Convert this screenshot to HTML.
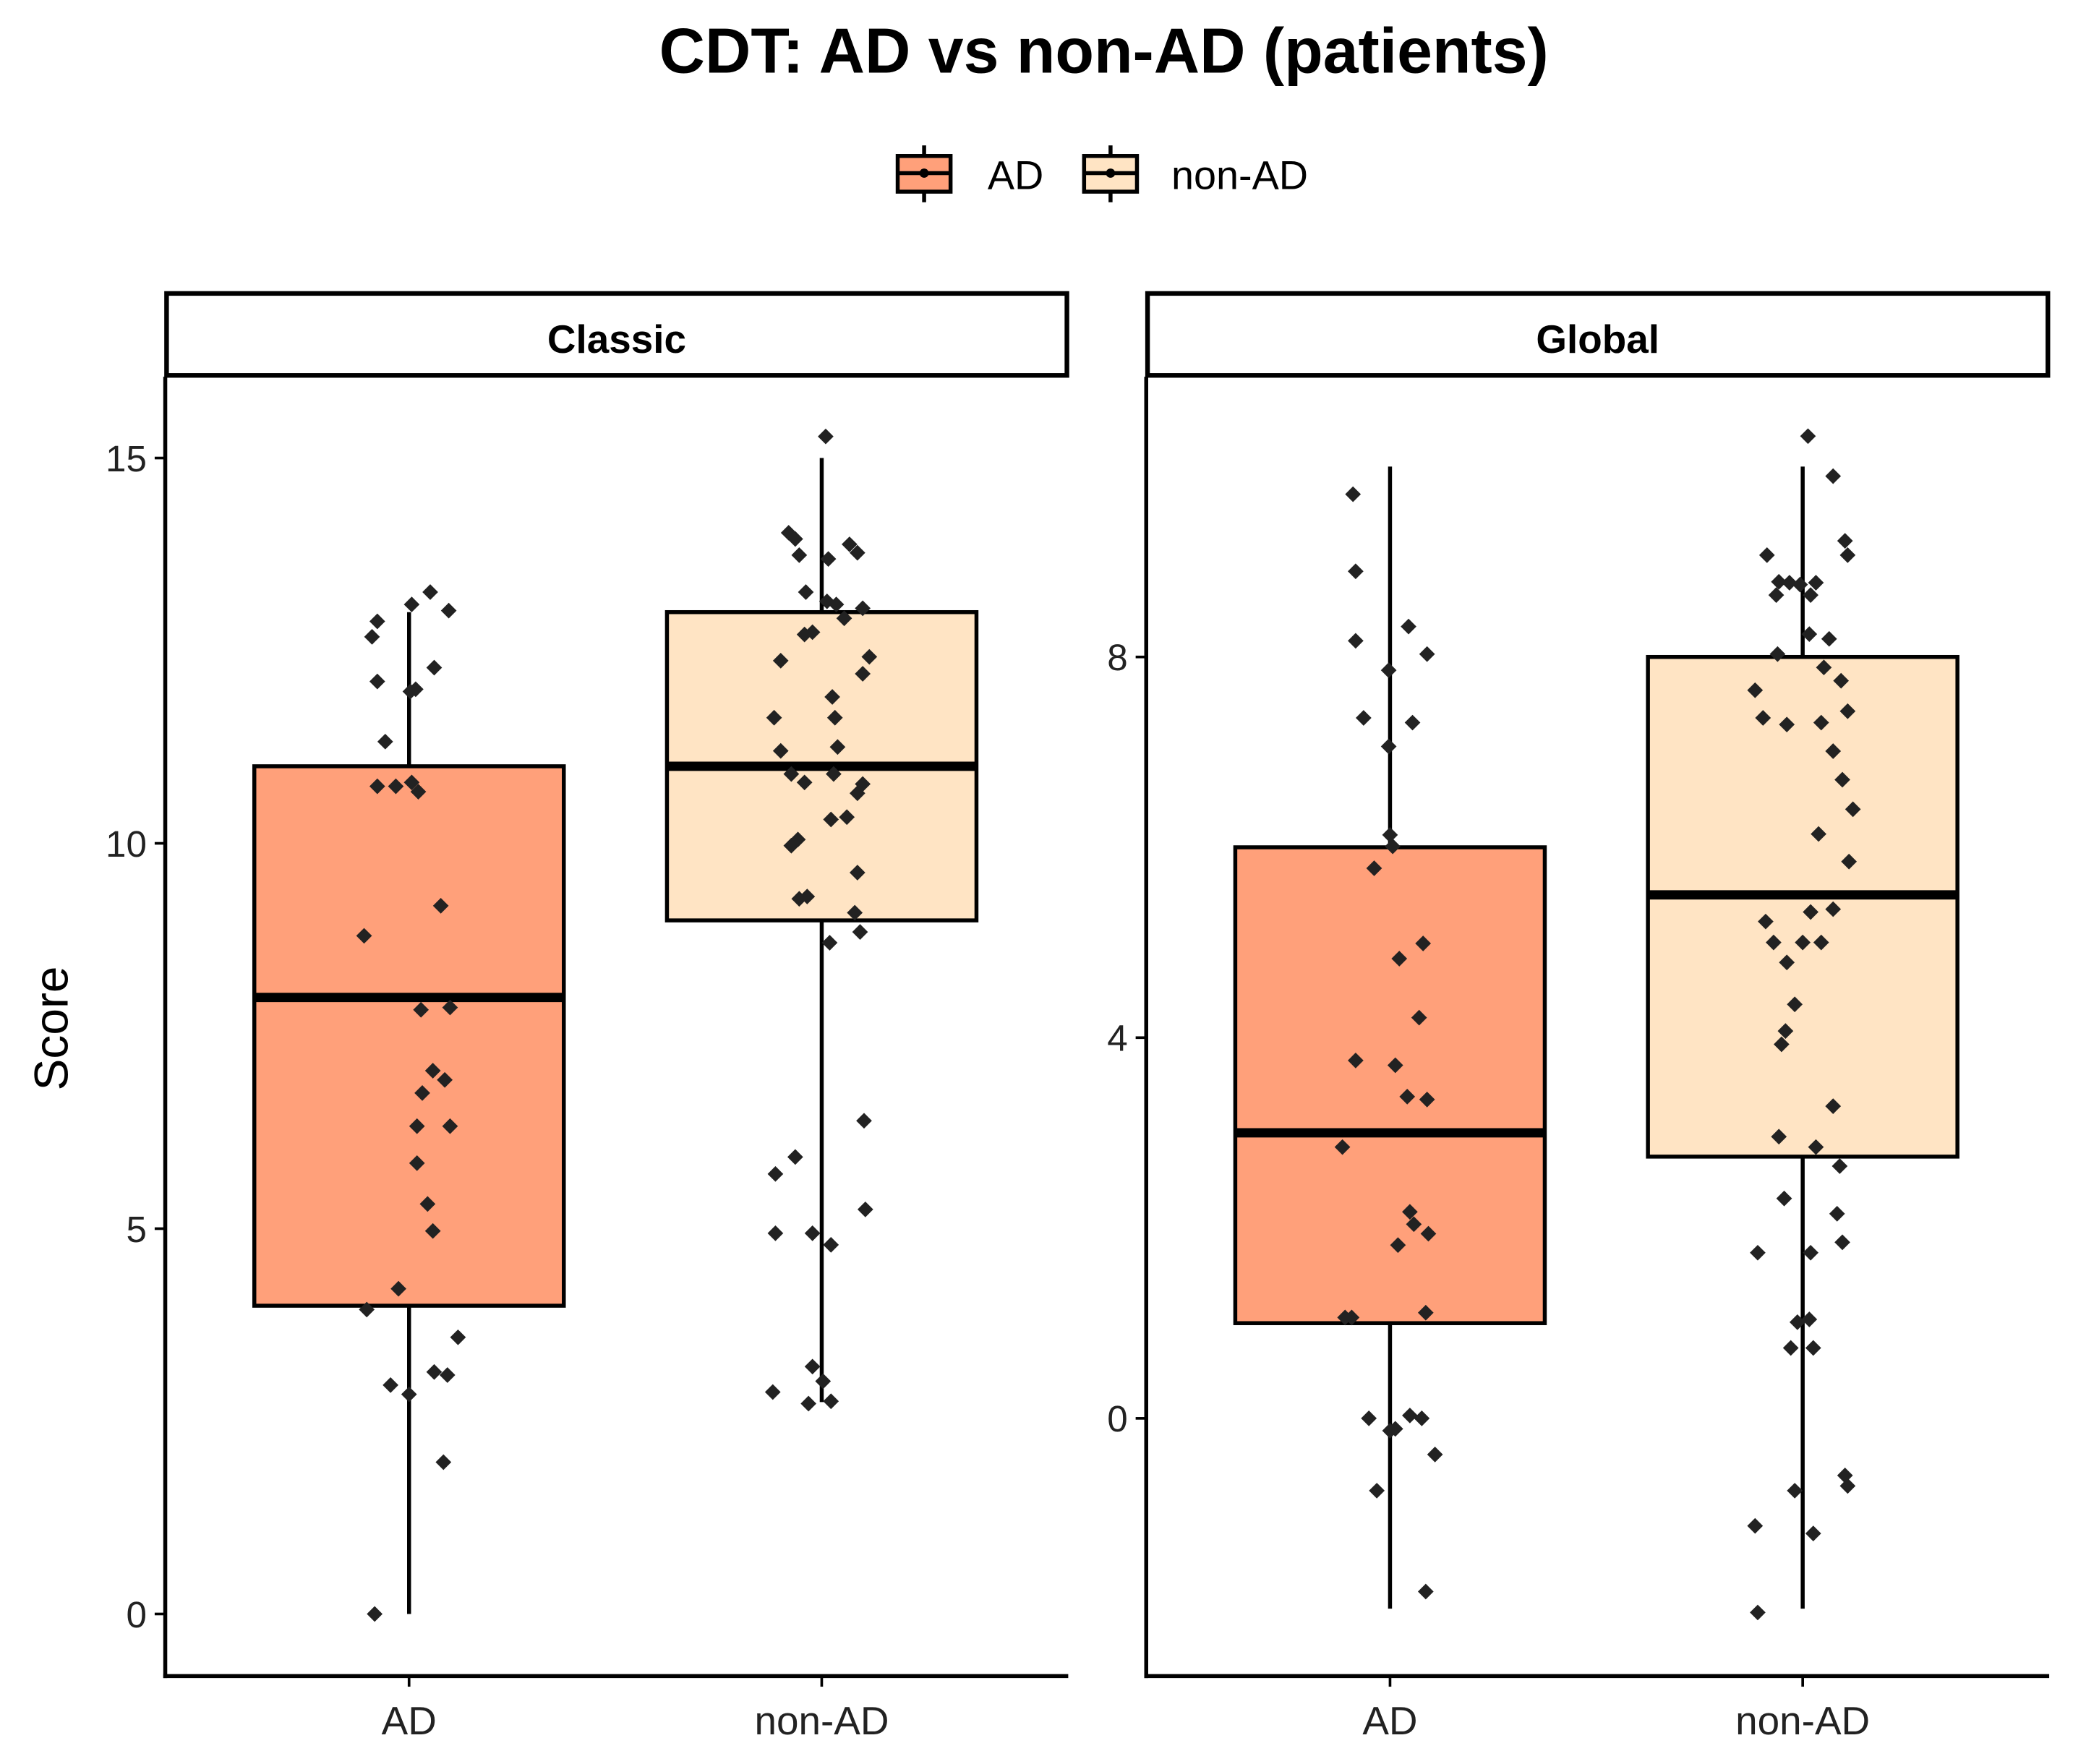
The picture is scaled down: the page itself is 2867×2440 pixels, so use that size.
<!DOCTYPE html>
<html><head><meta charset="utf-8"><style>
html,body{margin:0;padding:0;background:#fff;}
svg{display:block;font-family:"Liberation Sans",Arial,sans-serif;}
</style></head><body>
<svg id="chart" width="2867" height="2440" viewBox="0 0 1568 1334.5" preserveAspectRatio="none" xmlns="http://www.w3.org/2000/svg">
<rect width="1568" height="1334.5" fill="#fff"/>
<text x="835" y="55" text-anchor="middle" font-size="48" font-weight="bold">CDT: AD vs non-AD (patients)</text>
<g>
  <g>
    <line x1="699" y1="110" x2="699" y2="153" stroke="#000" stroke-width="3"/>
    <rect x="679" y="118" width="40" height="27" fill="#FFA07A" stroke="#000" stroke-width="3"/>
    <line x1="679" y1="131" x2="719" y2="131" stroke="#000" stroke-width="3"/>
    <circle cx="699" cy="131" r="3.5" fill="#000"/>
    <text x="747" y="143" font-size="30.5">AD</text>
  </g>
  <g>
    <line x1="840" y1="110" x2="840" y2="153" stroke="#000" stroke-width="3"/>
    <rect x="820" y="118" width="40" height="27" fill="#FFE4C4" stroke="#000" stroke-width="3"/>
    <line x1="820" y1="131" x2="860" y2="131" stroke="#000" stroke-width="3"/>
    <circle cx="840" cy="131" r="3.5" fill="#000"/>
    <text x="886" y="143" font-size="30.5">non-AD</text>
  </g>
</g>
<text transform="translate(51,778) rotate(-90)" text-anchor="middle" font-size="36">Score</text>
<g id="panels"></g>
</svg>
<script>
// ---- data ----
const categories = ["AD", "non-AD"];
const panelNames = ["Classic", "Global"];
const classicTicks = [0, 5, 10, 15];
const globalTicks = [0, 4, 8];
// box stats: [lowerWhisker, q1, median, q3, upperWhisker]
const classicADBox = [0, 4, 8, 11, 13];
const classicNonADBox = [2.75, 9, 11, 13, 15];
const globalADBox = [-2, 1, 3, 6, 10];
const globalNonADBox = [-2, 2.75, 5.5, 8, 10];
// points (values) and jitter (in 1/312 of category spacing)
const classicADVals = [13.26,13.1,12.88,13.02,12.68,12.0,12.28,12.1,11.32,11.97,10.74,10.74,10.79,10.67,9.19,8.8,7.84,7.87,7.05,6.93,6.76,6.33,6.33,5.85,5.32,4.97,4.22,3.95,3.59,2.97,2.85,3.14,3.1,1.97,0];
const classicADJit = [16,2,-24,30,-28,5,19,-24,-18,1,-24,-10,2,7,24,-34,9,31,18,27,10,6,31,6,14,18,-8,-32,37,-14,0,19,29,26,-26];
const classicNonADVals = [15.28,14.03,13.95,13.74,13.69,13.88,13.77,13.26,13.14,13.1,13.05,12.92,12.74,12.71,12.37,12.42,12.2,11.9,11.63,11.63,11.2,11.25,10.9,10.79,10.9,10.77,10.65,10.05,9.97,10.31,10.34,9.62,9.31,9.28,9.1,8.85,8.71,6.4,5.93,5.71,5.25,4.94,4.94,4.79,3.21,3.02,2.88,2.76,2.73];
const classicNonADJit = [3,-25,-20,-17,5,21,27,-12,4,11,31,17,-7,-13,-31,36,31,8,-36,10,-31,12,-23,-13,9,31,27,-18,-23,7,19,27,-11,-17,25,29,6,32,-20,-35,33,-35,-7,7,-7,1,-37,7,-10];
const globalADVals = [9.71,8.9,8.32,8.03,8.17,7.86,7.36,7.31,7.06,6.13,6.01,5.78,4.99,4.83,4.21,3.76,3.71,3.38,3.35,2.85,2.17,2.04,1.94,1.82,1.06,1.06,1.11,0,0.03,0,-0.13,-0.11,-0.38,-0.76,-1.82];
const globalADJit = [-28,-26,14,28,-26,-1,-20,17,-1,0,2,-12,25,7,22,-26,4,13,28,-36,15,18,29,6,-34,-29,27,-16,15,24,0,4,34,-10,27];
const globalNonADVals = [10.32,9.9,9.22,9.07,9.07,8.79,8.78,8.76,8.78,8.65,8.65,8.19,8.03,8.24,7.89,7.75,7.65,7.43,7.36,7.29,7.31,7.01,6.71,6.4,6.14,5.85,5.22,5.32,5.35,5.0,4.79,5.0,5.0,4.35,4.07,3.93,3.28,2.96,2.85,2.65,2.31,2.15,1.85,1.74,1.74,1.01,1.04,0.74,0.74,-0.6,-0.71,-0.76,-1.13,-1.21,-2.04];
const globalNonADJit = [4,23,32,34,-27,-18,-10,-2,10,6,-20,20,-19,5,16,29,-36,34,-30,-12,14,23,30,38,12,35,-28,6,23,-22,-12,0,14,-6,-13,-16,23,-18,10,28,-14,26,30,-34,6,-4,5,-9,8,32,34,-6,-36,8,-34];

// ---- layout ----
const NS = "http://www.w3.org/2000/svg";
const fills = ["#FFA07A", "#FFE4C4"];
const panels = [
  {name: panelNames[0], x0: 125, x1: 808, y0: 1221, k: 58.3, ticks: classicTicks,
   boxes: [classicADBox, classicNonADBox], vals: [classicADVals, classicNonADVals], jit: [classicADJit, classicNonADJit]},
  {name: panelNames[1], x0: 867, x1: 1550, y0: 1073, k: 72, ticks: globalTicks,
   boxes: [globalADBox, globalNonADBox], vals: [globalADVals, globalNonADVals], jit: [globalADJit, globalNonADJit]}
];
const plotTop = 285, plotBottom = 1268;
const root = document.getElementById("panels");
function mk(tag, attrs, parent) {
  const e = document.createElementNS(NS, tag);
  for (const k in attrs) e.setAttribute(k, attrs[k]);
  parent.appendChild(e);
  return e;
}
panels.forEach((p, pi) => {
  const yS = v => p.y0 - p.k * v;
  const xS = c => p.x0 + (p.x1 - p.x0) * (0.27 + 0.457 * c);
  const spacing = xS(1) - xS(0);
  const bw = spacing * 0.75;
  const g = mk("g", {}, root);
  
  
  const strip = mk("rect", {x: p.x0 + 1, y: 222, width: p.x1 - p.x0 - 2, height: 62, fill: "#fff", stroke: "#000", "stroke-width": 3.5}, g);
  
  
  const st = mk("text", {x: (p.x0 + p.x1) / 2, y: 267, "text-anchor": "middle", "font-size": 30, "font-weight": "bold"}, g);
  st.textContent = p.name;
  
  
  const ya = mk("line", {x1: p.x0, y1: plotTop, x2: p.x0, y2: plotBottom + 1.5, stroke: "#000", "stroke-width": 3}, g);
  
  
  const xa = mk("line", {x1: p.x0 - 1.5, y1: plotBottom, x2: p.x1, y2: plotBottom, stroke: "#000", "stroke-width": 3}, g);
  
  
  p.ticks.forEach(t => {
    const y = yS(t);
    const tl = mk("line", {x1: p.x0 - 8, y1: y, x2: p.x0, y2: y, stroke: "#000", "stroke-width": 2}, g);
    
    
    const tx = mk("text", {x: p.x0 - 14, y: y + 10, "text-anchor": "end", "font-size": 28, fill: "#222"}, g);
    tx.textContent = t;
    
    
  });
  categories.forEach((c, ci) => {
    const cx = xS(ci);
    const tl = mk("line", {x1: cx, y1: plotBottom, x2: cx, y2: plotBottom + 8, stroke: "#000", "stroke-width": 2}, g);
    
    
    const tx = mk("text", {x: cx, y: plotBottom + 44, "text-anchor": "middle", "font-size": 30, fill: "#222"}, g);
    tx.textContent = c;
    
    
    const b = p.boxes[ci];
    const bg = mk("g", {}, g);
    
    
    mk("line", {x1: cx, y1: yS(b[0]), x2: cx, y2: yS(b[4]), stroke: "#000", "stroke-width": 3}, bg);
    mk("rect", {x: cx - bw / 2, y: yS(b[3]), width: bw, height: yS(b[1]) - yS(b[3]), fill: fills[ci], stroke: "#000", "stroke-width": 3}, bg);
    mk("line", {x1: cx - bw / 2, y1: yS(b[2]), x2: cx + bw / 2, y2: yS(b[2]), stroke: "#000", "stroke-width": 7}, bg);
    const vals = p.vals[ci], jit = p.jit[ci];
    vals.forEach((v, i) => {
      const px = cx + jit[i] / 312 * spacing;
      const py = yS(v);
      const pt = mk("rect", {x: px - 4.2, y: py - 4.2, width: 8.4, height: 8.4, fill: "#222", transform: `rotate(45 ${px} ${py})`}, g);
      
      
    });
  });
});
</script>
</body></html>
